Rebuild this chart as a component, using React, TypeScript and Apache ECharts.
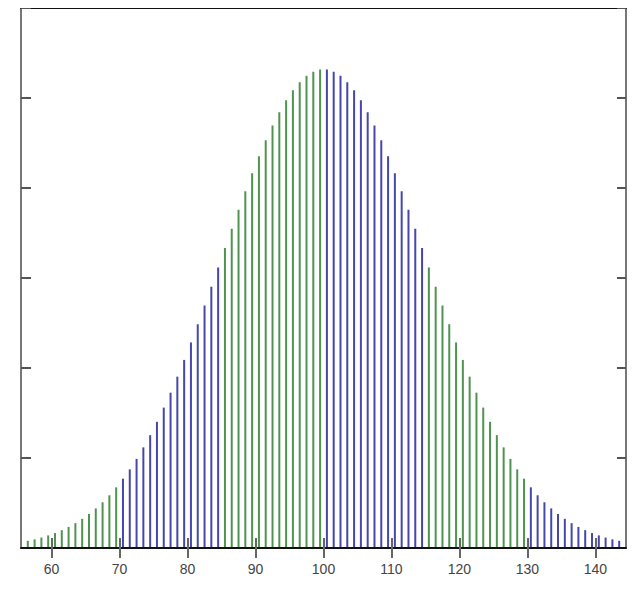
import React, { useEffect, useRef } from "react";
import * as echarts from "echarts";

// bin centres (IQ score), 56.5 ... 143.5
const binCenters: number[] = [
  56.5, 57.5, 58.5, 59.5, 60.5, 61.5, 62.5, 63.5, 64.5, 65.5, 66.5, 67.5, 68.5, 69.5,
  70.5, 71.5, 72.5, 73.5, 74.5, 75.5, 76.5, 77.5, 78.5, 79.5, 80.5, 81.5, 82.5, 83.5, 84.5,
  85.5, 86.5, 87.5, 88.5, 89.5, 90.5, 91.5, 92.5, 93.5, 94.5, 95.5, 96.5, 97.5, 98.5, 99.5,
  100.5, 101.5, 102.5, 103.5, 104.5, 105.5, 106.5, 107.5, 108.5, 109.5, 110.5, 111.5, 112.5, 113.5, 114.5,
  115.5, 116.5, 117.5, 118.5, 119.5, 120.5, 121.5, 122.5, 123.5, 124.5, 125.5, 126.5, 127.5, 128.5, 129.5,
  130.5, 131.5, 132.5, 133.5, 134.5, 135.5, 136.5, 137.5, 138.5, 139.5, 140.5, 141.5, 142.5, 143.5,
];

// bar heights (percent)
const heights: number[] = [
  0.040, 0.048, 0.058, 0.070, 0.083, 0.099, 0.117, 0.138, 0.162, 0.189, 0.220, 0.254, 0.293, 0.337,
  0.385, 0.437, 0.495, 0.559, 0.627, 0.701, 0.780, 0.863, 0.952, 1.045, 1.142, 1.243, 1.347, 1.452, 1.559,
  1.667, 1.774, 1.879, 1.982, 2.082, 2.176, 2.265, 2.347, 2.421, 2.487, 2.543, 2.588, 2.623, 2.646, 2.658,
  2.658, 2.646, 2.623, 2.588, 2.543, 2.487, 2.421, 2.347, 2.265, 2.176, 2.082, 1.982, 1.879, 1.774, 1.667,
  1.559, 1.452, 1.347, 1.243, 1.142, 1.045, 0.952, 0.863, 0.780, 0.701, 0.627, 0.559, 0.495, 0.437, 0.385,
  0.337, 0.293, 0.254, 0.220, 0.189, 0.162, 0.138, 0.117, 0.099, 0.083, 0.070, 0.058, 0.048, 0.040,
];

// colour band of each bar: 0 = green, 1 = blue
const bands: number[] = [
  0, 0, 0, 0, 0, 0, 0, 0, 0, 0, 0, 0, 0, 0,
  1, 1, 1, 1, 1, 1, 1, 1, 1, 1, 1, 1, 1, 1, 1,
  0, 0, 0, 0, 0, 0, 0, 0, 0, 0, 0, 0, 0, 0, 0,
  1, 1, 1, 1, 1, 1, 1, 1, 1, 1, 1, 1, 1, 1, 1,
  0, 0, 0, 0, 0, 0, 0, 0, 0, 0, 0, 0, 0, 0, 0,
  1, 1, 1, 1, 1, 1, 1, 1, 1, 1, 1, 1, 1, 1,
];

const xTickValues: number[] = [60, 70, 80, 90, 100, 110, 120, 130, 140];

const bandColors = ["#4e944e", "#4646ac"];

export default function App() {
  const ref = useRef<HTMLDivElement>(null);
  useEffect(() => {
    if (!ref.current) return;
    const chart = echarts.init(ref.current, undefined, { renderer: "svg" });
    const data = binCenters.map((x, i) => ({
      value: [x, heights[i]],
      itemStyle: { color: bandColors[bands[i]] },
    }));
    const grid = { left: 21, right: 14, top: 8, bottom: 60 };
    chart.setOption({
      animation: false,
      grid,
      xAxis: [
        {
          type: "value",
          position: "bottom",
          min: 55.5,
          max: 144.5,
          splitLine: { show: false },
          axisLine: { show: true, lineStyle: { color: "#111", width: 2 } },
          axisTick: {
            show: true,
            inside: true,
            length: 10,
            customValues: xTickValues,
            lineStyle: { color: "#666", width: 2 },
          },
          axisLabel: {
            show: true,
            customValues: xTickValues,
            margin: 14,
            fontSize: 14,
            color: "#444",
            fontFamily: "Liberation Sans, Arial, sans-serif",
          },
          z: 3,
        },
        {
          type: "value",
          position: "bottom",
          offset: 0,
          min: 55.5,
          max: 144.5,
          splitLine: { show: false },
          axisLine: { show: true, lineStyle: { color: "#111", width: 2, opacity: 0 } },
          axisTick: {
            show: true,
            inside: false,
            length: 10,
            customValues: xTickValues,
            lineStyle: { color: "#666", width: 2 },
          },
          axisLabel: { show: false },
          z: 3,
        },
        {
          type: "value",
          position: "top",
          min: 55.5,
          max: 144.5,
          splitLine: { show: false },
          axisLine: { show: true, lineStyle: { color: "#111", width: 2 } },
          axisTick: { show: false },
          axisLabel: { show: false },
        },
      ],
      yAxis: [
        {
          type: "value",
          position: "left",
          min: 0,
          max: 3,
          interval: 0.5,
          splitLine: { show: false },
          axisLine: { show: true, lineStyle: { color: "#777", width: 2 } },
          axisTick: { show: true, inside: true, length: 10, lineStyle: { color: "#555", width: 2 } },
          axisLabel: { show: false },
        },
        {
          type: "value",
          position: "right",
          min: 0,
          max: 3,
          interval: 0.5,
          splitLine: { show: false },
          axisLine: { show: true, lineStyle: { color: "#777", width: 2 } },
          axisTick: { show: true, inside: true, length: 9, lineStyle: { color: "#555", width: 2 } },
          axisLabel: { show: false },
        },
      ],
      series: [
        {
          type: "bar",
          xAxisIndex: 0,
          yAxisIndex: 0,
          barWidth: 2,
          data,
          z: 1,
        },
      ],
    });
    return () => chart.dispose();
  }, []);
  return <div ref={ref} style={{ width: 640, height: 608, margin: -8 }} />;
}
